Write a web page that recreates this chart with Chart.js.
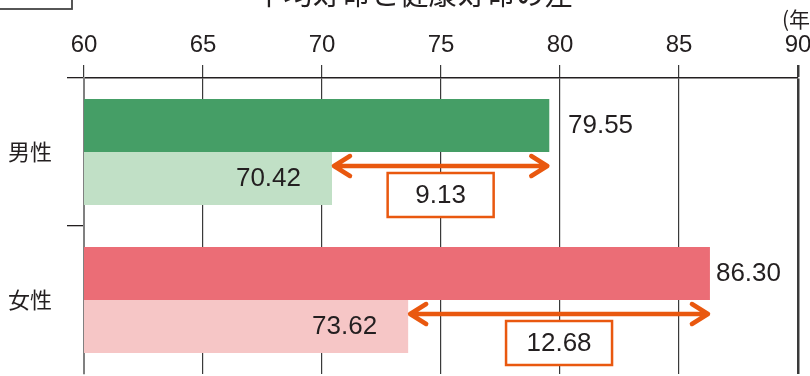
<!DOCTYPE html>
<html>
<head>
<meta charset="utf-8">
<script src="https://cdn.jsdelivr.net/npm/chart.js@4.4.1/dist/chart.umd.min.js"></script>
<style>
html, body { margin: 0; padding: 0; background: #fff; overflow: hidden; }
</style>
</head>
<body>
<canvas id="chart" width="810" height="376"></canvas>
<script>
const categories = ['男性', '女性'];
const lifeExpectancy = [79.55, 86.30];
const healthyLife = [70.42, 73.62];
const xTicks = [60, 65, 70, 75, 80, 85, 90];
const darkColors = ['#459e66', '#eb6d76'];
const lightColors = ['#c1e0c6', '#f6c6c6'];
const titleText = '平均寿命と健康寿命の差';
const unitText = '(年)';

const ink = '#231f20';
const orange = '#e9580f';

// labels, arrows and difference boxes on top of the bars
const annotate = {
    id: 'annotate',
    afterDatasetsDraw(chart){
        const {ctx, scales: {x}} = chart;
        const dark = chart.getDatasetMeta(0).data;
        const light = chart.getDatasetMeta(1).data;
        ctx.save();
        categories.forEach((c, i) => {
            const d = dark[i], l = light[i];
            ctx.font = '26px "Liberation Sans"';
            ctx.fillStyle = ink;
            ctx.textBaseline = 'middle';

            // value right of the dark bar, pushed past a grid line that sits too close
            let tx = d.x + 6;
            const next = xTicks.map(t => x.getPixelForValue(t)).find(p => p > d.x);
            if(next !== undefined && next - d.x < 15) tx = next + 8;
            ctx.textAlign = 'left';
            ctx.fillText(lifeExpectancy[i].toFixed(2), tx, d.y);

            ctx.textAlign = 'right';
            ctx.fillText(healthyLife[i].toFixed(2), l.x - 31, l.y);

            // double arrow between the two bar ends
            const ay = d.y + d.height/2 + 14;
            const x0 = l.x + 2, x1 = d.x - 2;
            ctx.strokeStyle = orange;
            ctx.lineWidth = 4.5;
            ctx.lineCap = 'round';
            ctx.lineJoin = 'round';
            ctx.beginPath();
            ctx.moveTo(x0, ay); ctx.lineTo(x1, ay);
            ctx.moveTo(x0 + 16, ay - 10); ctx.lineTo(x0, ay); ctx.lineTo(x0 + 16, ay + 10);
            ctx.moveTo(x1 - 16, ay - 10); ctx.lineTo(x1, ay); ctx.lineTo(x1 - 16, ay + 10);
            ctx.stroke();

            // box with the difference
            const cx = (x0 + x1)/2;
            ctx.fillStyle = '#fff';
            ctx.fillRect(cx - 53, ay + 7, 106, 44);
            ctx.lineWidth = 2.5;
            ctx.lineCap = 'butt';
            ctx.lineJoin = 'miter';
            ctx.strokeRect(cx - 53, ay + 7, 106, 44);
            ctx.fillStyle = ink;
            ctx.textAlign = 'center';
            ctx.fillText((lifeExpectancy[i] - healthyLife[i]).toFixed(2), cx, ay + 30);
        });
        ctx.restore();
    },
    afterDraw(chart){
        const ctx = chart.ctx;
        ctx.save();
        // title, mostly cut off by the top edge
        ctx.font = '29px "Noto Sans CJK JP"';
        ctx.fillStyle = ink;
        ctx.textAlign = 'center';
        ctx.textBaseline = 'alphabetic';
        ctx.fillText(titleText, 414, 5);
        // figure-number box at top left
        ctx.strokeStyle = '#444';
        ctx.lineWidth = 1.8;
        ctx.strokeRect(-2, -30, 74, 39);
        // unit
        ctx.font = '21px "Noto Sans CJK JP"';
        ctx.textAlign = 'left';
        ctx.textBaseline = 'middle';
        ctx.fillText(unitText, 782, 19);
        ctx.restore();
    }
};

const chart = new Chart(document.getElementById('chart'), {
    type: 'bar',
    data: {
        labels: categories,
        datasets: [
            { label: '平均寿命', data: lifeExpectancy, backgroundColor: darkColors, borderWidth: 0 },
            { label: '健康寿命', data: healthyLife, backgroundColor: lightColors, borderWidth: 0 }
        ]
    },
    options: {
        indexAxis: 'y',
        responsive: false,
        devicePixelRatio: 1,
        animation: false,
        categoryPercentage: 0.716,
        barPercentage: 1,
        layout: { padding: { left: 0, right: 12, top: 0, bottom: 2 } },
        plugins: { legend: { display: false }, tooltip: { enabled: false }, title: { display: false } },
        scales: {
            x: {
                position: 'top',
                min: xTicks[0],
                max: xTicks[xTicks.length - 1],
                afterBuildTicks: s => { s.ticks = xTicks.map(v => ({ value: v })); },
                afterFit: s => { s.height = 78; s.paddingLeft = 0; s.paddingRight = 0; },
                grid: {
                    color: '#3a3a3a',
                    lineWidth: c => c.index === xTicks.length - 1 ? 2.5 : 1.2,
                    tickLength: 13
                },
                border: { color: ink, width: 1.5 },
                ticks: { padding: 5, color: ink, font: { family: 'Liberation Sans', size: 24 } }
            },
            y: {
                z: 1,
                afterFit: s => { s.width = 84; s.paddingTop = 0; s.paddingBottom = 0; },
                grid: {
                    offset: true,
                    drawOnChartArea: false,
                    tickLength: 17,
                    // no tick on the closing line at the bottom
                    color: c => c.index === undefined ? 'rgba(0,0,0,0)' : ink,
                    lineWidth: 1.3
                },
                border: { color: '#808080', width: 2 },
                ticks: { padding: 15, color: ink, font: { family: 'Noto Sans CJK JP', size: 22 } }
            }
        }
    },
    plugins: [annotate]
});
</script>
</body>
</html>
